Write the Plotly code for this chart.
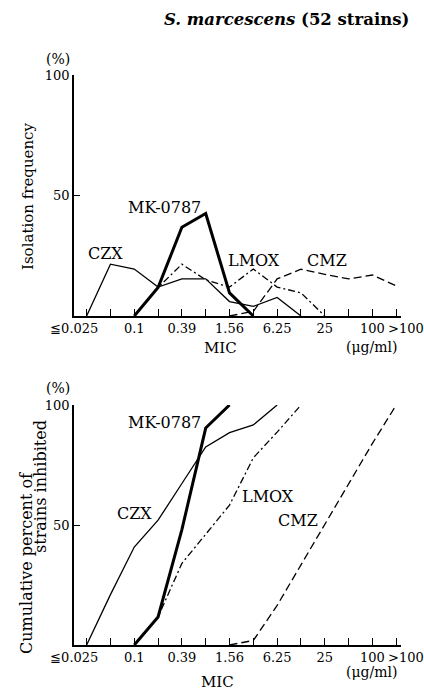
import plotly.graph_objects as go

# MIC categories (index positions on the axis)
mic = ["0.025", "0.05", "0.1", "0.2", "0.39", "0.78", "1.56", "3.13",
       "6.25", "12.5", "25", "50", "100", ">100"]
tick_vals = ["0.025", "0.1", "0.39", "1.56", "6.25", "25", "100"]
NB = "\u00a0"
tick_text = ["≦0.025" + NB * 6, "0.1", "0.39", "1.56", "6.25", "25", "100"]
last_label = ">100"

# Isolation frequency (%)
czx_x = ["0.025", "0.05", "0.1", "0.2", "0.39", "0.78", "1.56", "3.13", "6.25", "12.5"]
czx_f = [0, 21.5, 19.5, 12, 15.4, 15.4, 6, 4, 7.7, 0]
mk_x = ["0.1", "0.2", "0.39", "0.78", "1.56", "3.13"]
mk_f = [0, 11.8, 36.8, 42.5, 9.6, 0]
lmox_x = ["0.1", "0.2", "0.39", "0.78", "1.56", "3.13", "6.25", "12.5", "25"]
lmox_f = [0, 11.8, 21.5, 15, 12, 19.5, 12, 9.6, 0]
cmz_x = ["1.56", "3.13", "6.25", "12.5", "25", "50", "100", ">100"]
cmz_f = [0, 1.9, 15.4, 19.4, 17.3, 15.4, 17, 12.5]

# Cumulative percent of strains inhibited
czx_c = [0, 21, 40.8, 52, 67.3, 82.5, 88.5, 91.7, 100]
czx_cx = ["0.025", "0.05", "0.1", "0.2", "0.39", "0.78", "1.56", "3.13", "6.25"]
mk_c = [0, 11.7, 48.1, 90.4, 100]
mk_cx = ["0.1", "0.2", "0.39", "0.78", "1.56"]
lmox_c = [0, 11.7, 34, 46, 58.3, 78, 88.7, 100]
lmox_cx = ["0.1", "0.2", "0.39", "0.78", "1.56", "3.13", "6.25", "12.5"]
cmz_c = [0, 1.9, 16.5, 33.5, 50, 67, 84, 100]
cmz_cx = ["1.56", "3.13", "6.25", "12.5", "25", "50", "100", ">100"]

W, H = 424, 693
FONT = "DejaVu Serif"

def px(x):
    return x / W

def py(y):
    return 1 - y / H

thin = 1.3
fig = go.Figure()

def add(xs, ys, width, dash, xa, ya):
    fig.add_trace(go.Scatter(x=xs, y=ys, mode="lines", xaxis=xa, yaxis=ya,
                             line=dict(color="black", width=width, dash=dash),
                             showlegend=False, hoverinfo="skip"))

add(czx_x, czx_f, thin, "solid", "x", "y")
add(lmox_x, lmox_f, thin, "7px,3px,2px,3px", "x", "y")
add(cmz_x, cmz_f, thin, "8px,4px", "x", "y")
add(mk_x, mk_f, 3, "solid", "x", "y")

add(czx_cx, czx_c, thin, "solid", "x2", "y2")
add(lmox_cx, lmox_c, thin, "7px,3px,2px,3px", "x2", "y2")
add(cmz_cx, cmz_c, thin, "8px,4px", "x2", "y2")
add(mk_cx, mk_c, 3, "solid", "x2", "y2")

xdom = [px(74), px(401)]
xrange = [-0.53, 13.2]

def xaxis(anchor):
    return dict(domain=xdom, anchor=anchor, type="category",
                categoryorder="array", categoryarray=mic, range=xrange,
                showline=True, linecolor="black", linewidth=1.5,
                ticks="inside", ticklen=7, tickwidth=1.2, tickcolor="black",
                tickmode="array", tickvals=mic, tickangle=0, automargin=False,
                ticktext=[tick_text[tick_vals.index(m)] if m in tick_vals else "" for m in mic],
                tickfont=dict(family=FONT, size=13, color="black"),
                showgrid=False, zeroline=False, fixedrange=True)

def yaxis(anchor, top, bottom):
    return dict(domain=[py(bottom), py(top)], anchor=anchor, range=[0, 100],
                showline=True, linecolor="black", linewidth=1.5,
                ticks="inside", ticklen=6, tickwidth=1.2, tickcolor="black",
                tickmode="array", tickvals=[50, 100], ticktext=["50", "100"],
                tickfont=dict(family=FONT, size=13, color="black"), automargin=False,
                showgrid=False, zeroline=False, fixedrange=True)

fig.update_layout(
    width=W, height=H, margin=dict(l=0, r=0, t=0, b=0, autoexpand=False),
    paper_bgcolor="white", plot_bgcolor="white",
    xaxis=xaxis("y"), yaxis=yaxis("x", 75, 316),
    xaxis2=xaxis("y2"), yaxis2=yaxis("x2", 405, 645),
)

annots = []

def ptext(text, x, y, size=15, angle=0, xanchor="center"):
    annots.append(dict(text=text, x=px(x), y=py(y), xref="paper", yref="paper",
                       showarrow=False, xanchor=xanchor, yanchor="middle",
                       textangle=angle, font=dict(family=FONT, size=size, color="black")))

def dtext(text, x, y, xa, ya, size=16):
    annots.append(dict(text=text, x=x, y=y, xref=xa, yref=ya, showarrow=False,
                       xanchor="center", yanchor="middle",
                       font=dict(family=FONT, size=size, color="black")))

ptext("<b><i>S. marcescens</i> (52 strains)</b>", 411, 20, size=16.5, xanchor="right")
ptext("(%)", 58, 59, size=14)
ptext("(%)", 58, 388, size=14)
ptext("Isolation frequency", 28, 197, size=15, angle=-90)
ptext("Cumulative percent of", 26, 563, size=16, angle=-90)
ptext("strains inhibited", 40, 487, size=16, angle=-90)
ptext("MIC", 220, 348, size=15)
ptext("(μg/ml)", 371, 347, size=14)
ptext("MIC", 217, 682, size=15)
ptext("(μg/ml)", 371, 672, size=14)
# ">100" label placed just right of the "100" label, as in the original
ptext(last_label, 385.5, 328, size=13, xanchor="left")
ptext(last_label, 385.5, 657, size=13, xanchor="left")

dtext("MK-0787", 3.29, 45.2, "x", "y")
dtext("CZX", 0.81, 26.1, "x", "y")
dtext("LMOX", 7.04, 23.2, "x", "y")
dtext("CMZ", 10.1, 23.2, "x", "y")
dtext("MK-0787", 3.29, 92.9, "x2", "y2")
dtext("CZX", 1.99, 55, "x2", "y2")
dtext("LMOX", 7.6, 61.7, "x2", "y2")
dtext("CMZ", 8.88, 52, "x2", "y2")

fig.update_layout(annotations=annots)
fig.write_html("out.html")
